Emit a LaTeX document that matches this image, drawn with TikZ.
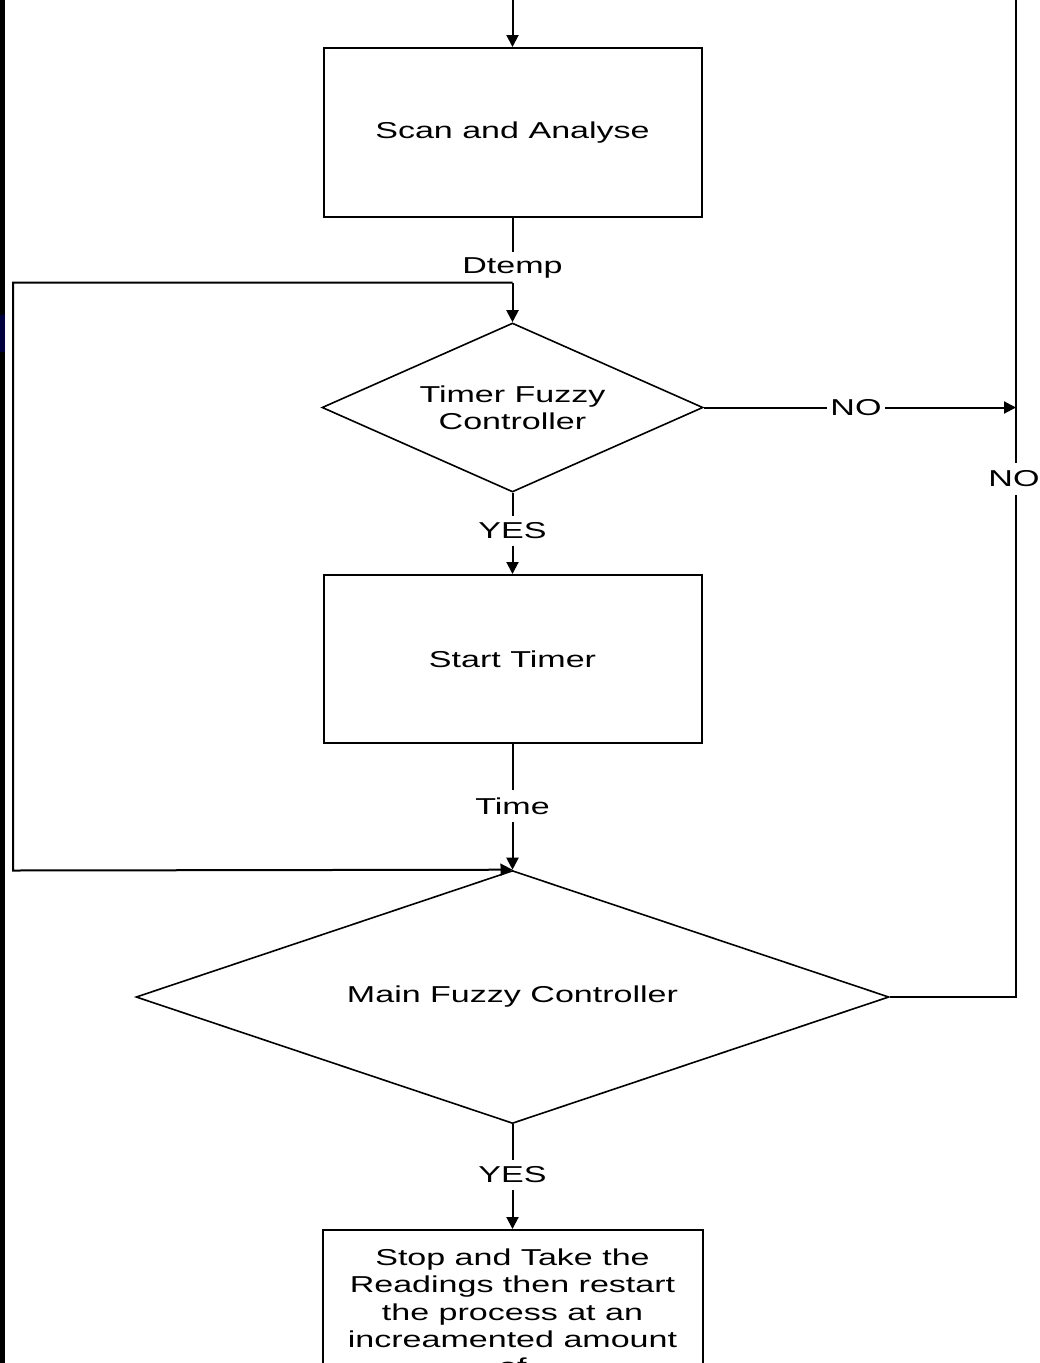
\documentclass[tikz,border=0pt]{standalone}
\usepackage{fontspec}
\setmainfont{Liberation Sans}[FakeStretch=1.48]
\usetikzlibrary{arrows.meta,shapes.geometric}
\definecolor{navyedge}{RGB}{0,0,64}
\begin{document}
\begin{tikzpicture}[x=1pt,y=-1pt,
  every node/.style={font=\fontsize{23pt}{26.8pt}\selectfont, text=black},
  ln/.style={line width=2pt, draw=black},
  arr/.style={ln,-{Triangle[width=12pt,length=12pt]}},
  procbox/.style={draw=black,line width=2pt,rectangle,minimum width=378pt,minimum height=169pt,inner sep=0pt,align=center},
  decision/.style={draw=black,line width=1.6pt,diamond,inner sep=0pt,align=center},
  lbl/.style={inner sep=0pt,minimum height=30pt}
]
\useasboundingbox (0,0) rectangle (1040,1363);
\fill[black] (0,0) rectangle (5,1363);
\fill[navyedge] (0,315) rectangle (5,352);

% nodes
\node[procbox] (scan) at (512.5,132.5) {Scan and Analyse};
\node[lbl] (dtemp) at (512.5,267.5) {Dtemp};
\node[decision, minimum width=381pt, minimum height=169pt, shape aspect=2.25] (timer) at (512.5,407.5) {Timer Fuzzy\\Controller};
\node[lbl] (yes1) at (512.5,531) {YES};
\node[procbox, minimum height=168pt] (start) at (512.5,659) {Start Timer};
\node[lbl, minimum height=32pt] (time) at (512.5,806) {Time};
\node[decision, minimum width=753pt, minimum height=253pt, shape aspect=2.98] (main) at (512.5,997) {Main Fuzzy Controller};
\node[lbl] (yes2) at (512.5,1175) {YES};
\node[procbox, anchor=north, minimum height=0pt, minimum width=380pt, inner xsep=0pt, inner ysep=19pt,
      font=\fontsize{23pt}{27.3pt}\selectfont] (stop) at (512.5,1229)
  {Stop and Take the\\Readings then restart\\the process at an\\increamented amount\\of};
\node[lbl, minimum width=58pt] (no1) at (856,407.5) {NO};
\node[lbl, minimum height=32pt] (no2) at (1014,479) {NO};

% free ends and corners
\coordinate (ttop) at (512.5,-5);
\coordinate (lt) at (13,282.5);
\coordinate (lb) at (13,870.5);
\coordinate (rtop) at (1016,-5);
\coordinate (rj) at (1016,407.5);
\coordinate (rb) at (1016,997);

% connectors
\draw[arr] (ttop) -- (scan.north);
\draw[ln] (scan.south) -- (dtemp.north);
\draw[arr] (dtemp.south) -- (timer.north);
\draw[arr] (dtemp.south) -- (lt) -- (lb) -- (main.north);
\draw[ln] (timer.south) -- (yes1.north);
\draw[arr] (yes1.south) -- (start.north);
\draw[ln] (start.south) -- (time.north);
\draw[arr] (time.south) -- (main.north);
\draw[ln] (main.south) -- (yes2.north);
\draw[arr] (yes2.south) -- (stop.north);
\draw[ln] (timer.east) -- (no1.west);
\draw[arr] (no1.east) -- (rj);
\draw[ln] (main.east) -- (rb) -- (no2.south -| rb);
\draw[ln] (no2.north -| rb) -- (rtop);
\end{tikzpicture}
\end{document}
